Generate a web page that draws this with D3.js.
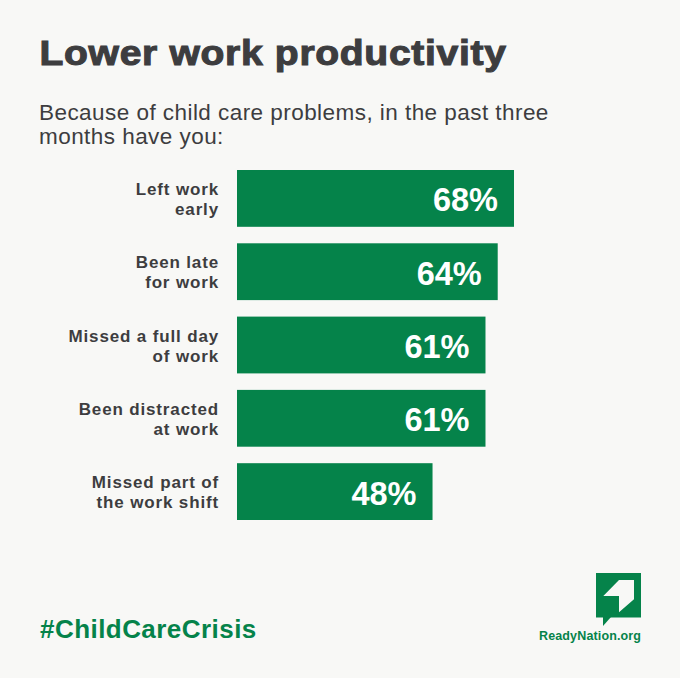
<!DOCTYPE html>
<html><head><meta charset="utf-8">
<script src="https://cdn.jsdelivr.net/npm/d3@7/dist/d3.min.js"></script>
<style>html,body{margin:0;padding:0;background:#f8f8f6}svg{display:block}text{font-family:"Liberation Sans",Arial,sans-serif}</style>
</head><body><div id="c"></div>
<script>
const categories = [["Left work","early"],["Been late","for work"],["Missed a full day","of work"],["Been distracted","at work"],["Missed part of","the work shift"]];
const rowKeys = ["a","b","c","d","e"];
const values = [68,64,61,61,48];
const titleText = "Lower work productivity";
const subtitleLines = ["Because of child care problems, in the past three","months have you:"];
const hashtag = "#ChildCareCrisis";
const brand = "ReadyNation.org";
const green = "#05834a", dark = "#3d3d3f", bg = "#f8f8f6";

const W=680,H=678;
const svg=d3.select("#c").append("svg").attr("width",W).attr("height",H).style("background",bg);
const x=d3.scaleLinear().domain([0,68]).range([237,514]);
const y=d3.scaleBand().domain(rowKeys).range([170,520]).paddingInner(0.225).paddingOuter(0);

svg.append("text").attr("transform","translate(39.5,64.5) scale(1.1,1)").attr("fill",dark).attr("font-size",35.5).attr("font-weight",700)
  .attr("stroke",dark).attr("stroke-width",1.1).attr("textLength",424).attr("lengthAdjust","spacing").text(titleText);
svg.append("g").selectAll("text").data(subtitleLines).join("text")
  .attr("x",39).attr("y",(d,i)=>119.5+i*24).attr("fill",dark).attr("font-size",22.5)
  .attr("letter-spacing",0.45).text(d=>d);

svg.append("g").selectAll("rect").data(values).join("rect")
  .attr("x",x(0)).attr("y",(d,i)=>y(rowKeys[i])).attr("width",d=>x(d)-x(0)).attr("height",y.bandwidth()).attr("fill",green);

svg.append("g").selectAll("text").data(values).join("text")
  .attr("x",d=>x(d)-16).attr("y",(d,i)=>y(rowKeys[i])+y.bandwidth()/2+13)
  .attr("text-anchor","end").attr("fill","#fff").attr("font-size",32.5).attr("font-weight",700).text(d=>d+"%");

const lab=svg.append("g").selectAll("g").data(categories).join("g");
lab.selectAll("text").data((d,i)=>d.map((t,j)=>({t,j,i}))).join("text")
  .attr("x",219).attr("y",d=>y(rowKeys[d.i])+y.bandwidth()/2-3.5+d.j*20)
  .attr("text-anchor","end").attr("fill",dark).attr("font-size",17).attr("font-weight",700)
  .attr("letter-spacing",0.85).text(d=>d.t);

svg.append("text").attr("x",40).attr("y",638).attr("fill",green).attr("font-size",26).attr("font-weight",700)
  .attr("letter-spacing",0.45).text(hashtag);

const logo=svg.append("g");
logo.append("rect").attr("x",596).attr("y",573).attr("width",45).attr("height",44.5).attr("fill",green);
logo.append("path").attr("d","M603 617V626L611 617Z").attr("fill",green);
logo.append("path").attr("d","M619 580H634V599.3L619 612.3V596H603.3Z").attr("fill",bg);
svg.append("text").attr("x",539).attr("y",639.5).attr("fill",green)
  .attr("font-size",12.5).attr("font-weight",700).attr("textLength",102).attr("lengthAdjust","spacing").text(brand);
</script></body></html>
